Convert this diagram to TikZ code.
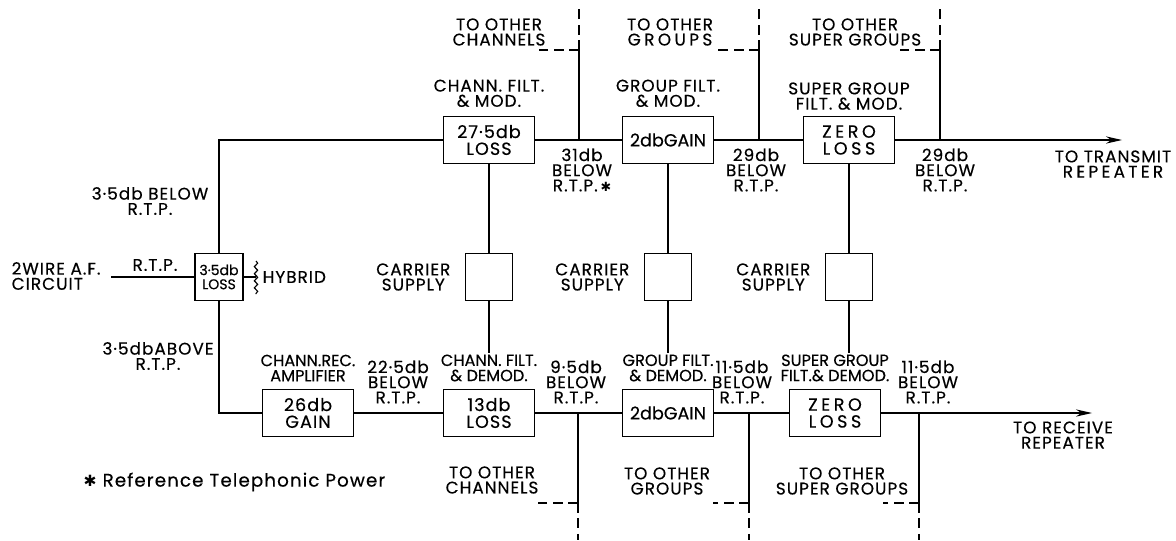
\documentclass[tikz,border=0pt]{standalone}
\usepackage{fontspec}
\setmainfont{Poppins}[LetterSpace=6, FakeBold=0.4]
\newfontfamily\symfont{DejaVu Sans}
\usetikzlibrary{arrows.meta,positioning,decorations.pathmorphing}
\newcommand{\wide}[1]{{\addfontfeature{LetterSpace=20}#1}}
\newcommand{\tight}[1]{{\addfontfeature{LetterSpace=0}#1}}
\newcommand{\refmark}{{\symfont\fontsize{9}{9}\selectfont ✱}}

\begin{document}
\begin{tikzpicture}[x=0.025cm, y=-0.025cm,
  font=\fontsize{12}{10.8}\selectfont,
  blk/.style={draw, line width=1.2pt, minimum width=2.275cm, minimum height=1.175cm, align=center, inner sep=1pt, font=\fontsize{12.5}{12}\selectfont},
  supply/.style={draw, line width=1.2pt, minimum size=1.175cm},
  lbl/.style={align=center, inner sep=1pt},
  nlbl/.style={lbl, font=\fontsize{11.5}{10.8}\selectfont\addfontfeature{LetterSpace=0}},
  wire/.style={line width=0.8pt},
  brk/.style={line width=0.8pt, dash pattern=on 7pt off 4pt},
  arr/.style={line width=0.8pt, -{Stealth[length=4mm, width=1.8mm]}}
]
\useasboundingbox (0,0) rectangle (1176,540);

% hybrid and input
\node[blk, minimum width=1.2cm, font=\fontsize{10}{10}\selectfont] (hyb) at (219,277) {\tight{3·5db}\\\tight{LOSS}};
\coordinate (in) at (111,277);
\coordinate (ct) at (256,261);
\coordinate (cb) at (256,294);

% transmit path
\node[blk] (cm) at (489,140) {27·5db\\LOSS};
\node[blk] (gm) at (668,140) {\tight{2dbGAIN}};
\node[blk] (sm) at (849,140) {\wide{ZERO}\\\wide{LOSS}};
\coordinate (tx) at (1122,140);

% carrier supplies
\node[supply] (cs1) at (489,277) {};
\node[supply] (cs2) at (668,277) {};
\node[supply] (cs3) at (849,277) {};

% receive path
\node[blk] (ra) at (308,413) {26db\\GAIN};
\node[blk] (cd) at (489,413) {13db\\LOSS};
\node[blk] (gd) at (668,413) {\tight{2dbGAIN}};
\node[blk] (sd) at (835,413) {\wide{ZERO}\\\wide{LOSS}};
\coordinate (rx) at (1092,413);

% receive path names
\node[nlbl, above=4pt of ra] (ral) {CHANN.REC.\\AMPLIFIER};
\node[nlbl, above=4pt of cd] (cdl) {CHANN. FILT.\\\& DEMOD.};
\node[nlbl, above=4pt of gd] (gdl) {GROUP FILT.\\\& DEMOD.};
\node[nlbl, above=4pt of sd] (sdl) {SUPER GROUP\\FILT.\& DEMOD.};

% connections
\draw[wire] (in) -- (hyb.west);
\draw[wire] (hyb.east) -- (hyb.east -| ct);
\draw[wire, decorate, decoration={snake, amplitude=1.2pt, segment length=5pt}] (ct) -- (cb);
\draw[wire] (hyb.north) |- (cm.west);
\draw[wire] (cm) -- (gm);
\draw[wire] (gm) -- (sm);
\draw[arr] (sm) -- (tx);
\draw[wire] (hyb.south) |- (ra.west);
\draw[wire] (ra) -- (cd);
\draw[wire] (cd) -- (gd);
\draw[wire] (gd) -- (sd);
\draw[arr] (sd) -- (rx);
\draw[wire] (cm) -- (cs1);
\draw[wire] (gm) -- (cs2);
\draw[wire] (sm) -- (cs3);
\draw[wire] (cs1.south) -- (cs1.south |- cdl.north);
\draw[wire] (cs2.south) -- (cs2.south |- gdl.north);
\draw[wire] (cs3.south) -- (cs3.south |- sdl.north);

% branches to other channels / groups
\foreach \n/\x/\s in {c/579/539, g/759/717, s/940/900}{
  \coordinate (up\n) at (\x,140);
  \coordinate (uk\n) at (\x,50);
  \draw[wire] (up\n) -- (uk\n);
  \draw[brk] (uk\n) -- (\s,50);
  \draw[brk] (uk\n) -- (\x,6);
}
\foreach \n/\x/\s in {c/578/538, g/749/713, s/919/883}{
  \coordinate (dn\n) at (\x,413);
  \coordinate (dk\n) at (\x,503);
  \draw[wire] (dn\n) -- (dk\n);
  \draw[brk] (dk\n) -- (\s,503);
  \draw[brk] (dk\n) -- (\x,540);
}

% labels
\node[lbl, anchor=west, align=left] (wl) at (10,276) {2WIRE A.F.\\CIRCUIT};
\node[lbl] (rl) at (155,265) {R.T.P.};
\node[lbl, anchor=west] (hl) at (261,277) {HYBRID};
\node[lbl] (bl) at (150,201) {3·5db BELOW\\R.T.P.};
\node[lbl] (al) at (158,356) {3·5dbABOVE\\R.T.P.};

\node[lbl, above=5pt of cm] (cml) {CHANN. FILT.\\\& MOD.};
\node[lbl, above=5pt of gm] (gml) {GROUP FILT.\\\& MOD.};
\node[lbl, above=3pt of sm] (sml) {SUPER GROUP\\FILT. \& MOD.};
\node[lbl] (oc1) at (499,32) {TO OTHER\\CHANNELS};
\node[lbl] (og1) at (670,32) {TO OTHER\\\wide{GROUPS}};
\node[lbl] (os1) at (855,32) {TO OTHER\\SUPER GROUPS};
\node[lbl] (d1) at (582,170) {31db\\BELOW\\R.T.P.\,\refmark};
\node[lbl] (d2) at (756,170) {29db\\BELOW\\R.T.P.};
\node[lbl] (d3) at (945,170) {29db\\BELOW\\R.T.P.};
\node[lbl] (txl) at (1113,164) {TO TRANSMIT\\\wide{REPEATER}};

\node[lbl, left=9pt of cs1] (sl1) {CARRIER\\SUPPLY};
\node[lbl, left=9pt of cs2] (sl2) {CARRIER\\SUPPLY};
\node[lbl, left=9pt of cs3] (sl3) {CARRIER\\SUPPLY};

\node[lbl] (e1) at (398,382) {22·5db\\BELOW\\R.T.P.};
\node[lbl] (e2) at (576,382) {9·5db\\BELOW\\R.T.P.};
\node[lbl] (e3) at (742,382) {11·5db\\BELOW\\R.T.P.};
\node[lbl] (e4) at (928,382) {11·5db\\BELOW\\R.T.P.};
\node[lbl] (rxl) at (1063,435) {TO RECEIVE\\REPEATER};
\node[lbl] (oc2) at (492,480) {TO OTHER\\CHANNELS};
\node[lbl] (og2) at (667,481) {TO OTHER\\GROUPS};
\node[lbl] (os2) at (842,481) {TO OTHER\\SUPER GROUPS};
\node[lbl, anchor=west, font=\fontsize{13}{14}\selectfont] (note) at (82,482) {{\symfont\fontsize{11}{11}\selectfont ✱}\ Reference Telephonic Power};
\end{tikzpicture}
\end{document}
